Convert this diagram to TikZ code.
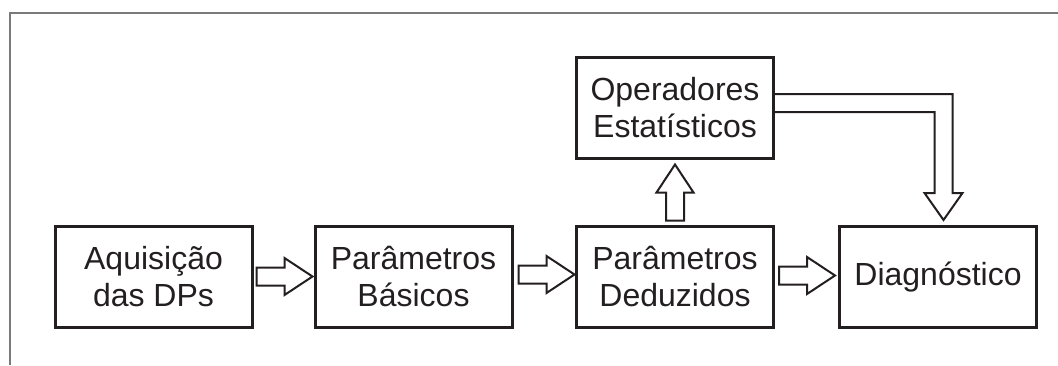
\documentclass[tikz,border=0pt]{standalone}
\usepackage{fontspec}
\setmainfont{Liberation Sans}
\usepackage{tikz}
\usetikzlibrary{calc}
\definecolor{inkblack}{HTML}{231F20}
\definecolor{framegray}{HTML}{7A7A7A}
\tikzset{block/.style={rectangle,draw=inkblack,line width=1.5pt,text=inkblack,
  minimum width=98.5pt,minimum height=50.5pt,align=center,
  font=\fontsize{16}{18.5}\selectfont}}
\tikzset{hollow/.style={draw=inkblack,line width=1pt,line join=miter,fill=white}}
% hollow block arrow, pointing right, starts at (0,0)
\tikzset{blockarrow/.pic={
  \draw[hollow] (0,-9) -- (28,-9) -- (28,-18.5) -- (56,0) -- (28,18.5) -- (28,9) -- (0,9) -- cycle;
}}

\begin{document}
\begin{tikzpicture}[x=0.5pt,y=-0.5pt]
\useasboundingbox (0,0) rectangle (1058,365);
\draw[framegray,line width=0.7pt] (1058,13) -- (10,13) -- (10,365);
%
\node (acq) [block] at (153.5,276.5) {Aquisição\\das DPs};
\node (bas) [block] at (413.5,276.5) {Parâmetros\\Básicos};
\node (ded) [block] at (675,276.5) {Parâmetros\\Deduzidos};
\node (ope) [block] at (675,107.5) {Operadores\\Estatísticos};
\node (diag) [block] at (938,277) {Diagnóstico};
%
\pic at ($(acq.east)+(3,0)$) {blockarrow};
\pic at ($(bas.east)+(5,-2)$) {blockarrow};
\pic at ($(ded.east)+(4,-1)$) {blockarrow};
\pic[rotate=90] at ($(ded.north)+(0,-4)$) {blockarrow};
%
\draw[hollow,fill=none] ($(ope.east)+(0,-13.5)$) -- ++(177.5,0) -- ++(0,99) -- ++(10,0)
  -- ++(-19,27) -- ++(-19,-27) -- ++(10,0) -- ++(0,-81) -- ($(ope.east)+(0,4.5)$);
\end{tikzpicture}
\end{document}
